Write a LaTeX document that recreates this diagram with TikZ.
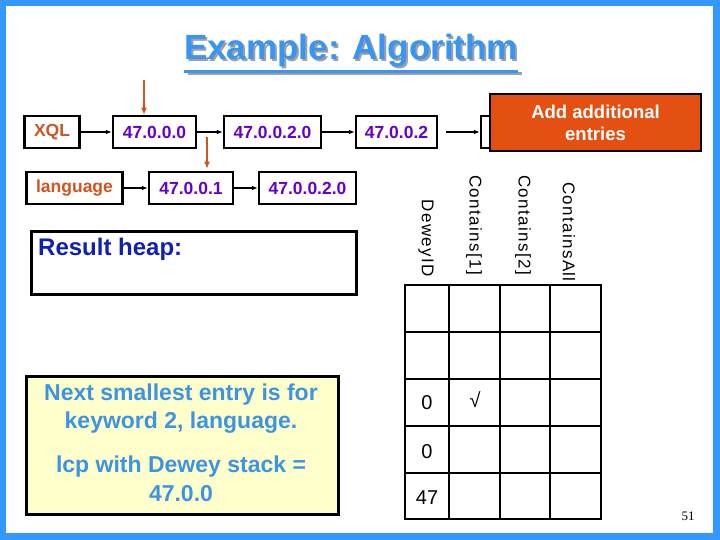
\documentclass[tikz,border=0pt]{standalone}
\usepackage{fontspec}
\setmainfont{Liberation Sans}
\newfontfamily\pnfont{Liberation Serif}
\usetikzlibrary{arrows.meta}
\definecolor{frameblue}{RGB}{51,153,255}
\definecolor{titleblue}{RGB}{55,150,245}
\definecolor{purpletxt}{RGB}{102,0,204}
\definecolor{orangetxt}{RGB}{204,85,34}
\definecolor{orangebox}{RGB}{228,80,18}
\definecolor{noteyellow}{RGB}{255,255,204}
\definecolor{notetxt}{RGB}{60,148,228}
\definecolor{heaptxt}{RGB}{16,32,176}
\definecolor{shadowgray}{RGB}{160,160,160}
\tikzset{
  listbox/.style={draw, line width=2.5pt, minimum height=32pt, inner sep=0pt,
    font=\bfseries\fontsize{17.5}{20}\selectfont, text=purpletxt},
  keybox/.style={listbox, text=orangetxt},
  arr/.style={line width=1.6pt, -{Latex[length=6pt,width=5pt]}},
  oarr/.style={draw=orangetxt, line width=2pt, -{Latex[length=7pt,width=6pt]}},
  titlefont/.style={font=\bfseries\fontsize{35}{42}\selectfont, inner sep=0pt, anchor=base},
  notetext/.style={font=\bfseries\fontsize{23}{27}\selectfont, text=notetxt, inner sep=0pt},
  colhead/.style={font=\fontsize{17}{20}\selectfont\addfontfeature{LetterSpace=8}, rotate=-90, inner sep=0pt, anchor=east},
  cell/.style={font=\fontsize{20}{24}\selectfont, inner sep=0pt},
  tab/.style={line width=2pt}
}
\begin{document}
\begin{tikzpicture}[x=1pt,y=-1pt]
\useasboundingbox (0,0) rectangle (720,540);
\fill[frameblue] (0,0) rectangle (720,540);
\fill[white] (6,6) rectangle (713,533);

% title
\node[titlefont, text=shadowgray] (titlesh) at (353,62) {Example: Algorithm};
\fill[shadowgray] ([xshift=2pt,yshift=-10pt]titlesh.base west) rectangle ([xshift=2pt,yshift=-13pt]titlesh.base east);
\node[titlefont, text=titleblue] (title) at (351,60) {Example: Algorithm};
\fill[titleblue] ([yshift=-10pt]title.base west) rectangle ([yshift=-13pt]title.base east);

% row 1
\node[keybox, minimum width=55pt] (xql) at (52,132) {XQL};
\node[listbox, minimum width=83pt] (n1) at (154.5,132) {47.0.0.0};
\node[listbox, minimum width=97pt] (n2) at (272.5,132) {47.0.0.2.0};
\node[listbox, minimum width=81pt] (n3) at (396.5,132) {47.0.0.2};
\node[listbox, minimum width=18pt] (small) at (490,132) {};
\node[draw, line width=2.5pt, fill=orangebox, minimum width=211pt, minimum height=57pt,
  text=white, align=center, font=\bfseries\fontsize{18.5}{22}\selectfont, inner sep=0pt] (add) at (595.5,122.5) {Add additional\\entries};
\draw[arr] (xql) -- (n1);
\draw[arr] (n1) -- (n2);
\draw[arr] (n2) -- (n3);
\draw[arr] ([xshift=8pt]n3.east) -- (small.west);

% row 2
\node[keybox, minimum width=96pt] (lang) at (74.5,188) {language};
\node[listbox, minimum width=84pt] (m1) at (191,188) {47.0.0.1};
\node[listbox, minimum width=97pt] (m2) at (307.5,188) {47.0.0.2.0};
\draw[arr] (lang) -- (m1);
\draw[arr] (m1) -- (m2);

% cursors
\coordinate (o1) at (144,80);
\draw[oarr] (o1) -- (o1 |- n1.north);
\coordinate (o2) at (207,137);
\draw[oarr] (o2) -- ([yshift=2pt]o2 |- m1.north);

% result heap
\node[draw, line width=2.5pt, minimum width=325pt, minimum height=63pt, anchor=north west, inner sep=0pt] (heap) at (30,230) {};
\node[font=\bfseries\fontsize{24}{28}\selectfont, text=heaptxt, anchor=west, inner sep=0pt] (heaplbl) at (38,249) {Result heap:};

% note
\node[draw, line width=2.5pt, fill=noteyellow, minimum width=312pt, minimum height=138pt, anchor=north west, inner sep=0pt] (note) at (25,375) {};
\node[notetext] (l1) at (181,395) {Next smallest entry is for};
\node[notetext] (l2) at (181,423) {keyword 2, language.};
\node[notetext] (l3) at (181,467) {lcp with Dewey stack =};
\node[notetext] (l4) at (181,494) {47.0.0};

% table
\draw[tab] (405,285) rectangle (601,519);
\foreach \x in {449,500,550} \draw[tab] (\x,285) -- (\x,519);
\foreach \y in {332,379,426,473} \draw[tab] (405,\y) -- (601,\y);
\node[colhead] (h1) at (426,277) {DeweyID};
\node[colhead] (h2) at (474,275) {Contains[1]};
\node[colhead] (h3) at (523,275) {Contains[2]};
\node[colhead] (h4) at (569,282) {ContainsAll};
\node[cell] (c1) at (427,403) {0};
\node[cell] (c2) at (475,400) {√};
\node[cell] (c3) at (427,452) {0};
\node[cell] (c4) at (427,498) {47};

% page number
\node[font=\pnfont\fontsize{13}{15}\selectfont, inner sep=0pt] (pn) at (688,516) {51};
\end{tikzpicture}
\end{document}
